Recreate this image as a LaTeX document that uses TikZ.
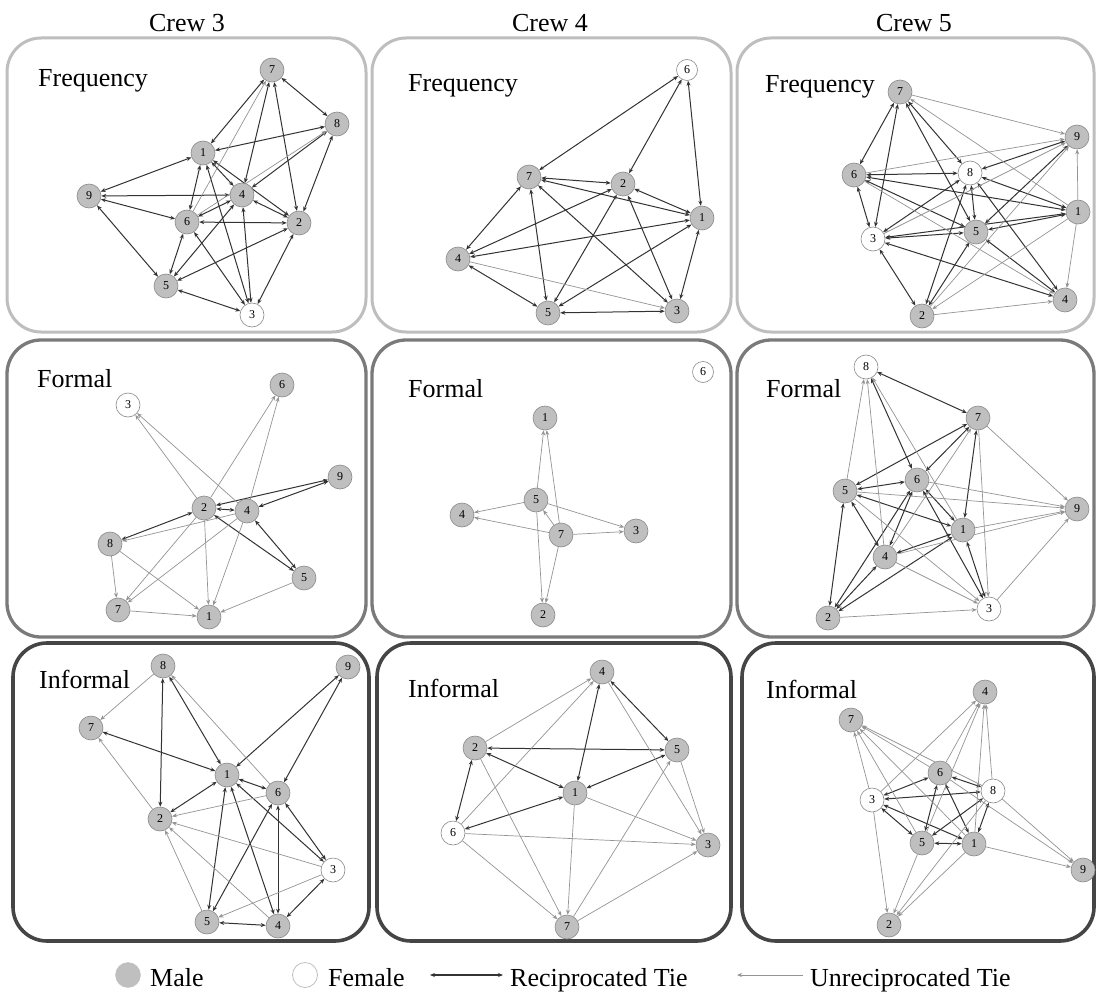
\documentclass[tikz,border=0pt]{standalone}
\usepackage{fontspec}
\setmainfont{Liberation Serif}
\usetikzlibrary{arrows.meta,backgrounds}
\definecolor{rowone}{HTML}{BEBEBE}
\definecolor{rowtwo}{HTML}{7A7A7A}
\definecolor{rowthree}{HTML}{454545}
\definecolor{malefill}{HTML}{BFBFBF}
\definecolor{nodeedge}{HTML}{8A8A8A}
\begin{document}
\begin{tikzpicture}[x=1pt,y=-1pt,
  male/.style={circle, draw=nodeedge, fill=malefill, line width=0.6pt, minimum size=24pt, inner sep=0pt, font=\fontsize{12}{12}\selectfont},
  female/.style={male, fill=white},
  rec/.style={draw=black!80, line width=1pt, {Stealth[length=5pt,width=4pt]}-{Stealth[length=5pt,width=4pt]}},
  uni/.style={draw=black!42, line width=0.7pt, -{Stealth[length=5pt,width=4pt]}},
  panelbox/.style={rounded corners=34pt, line width=3pt},
  biglabel/.style={anchor=base west, inner sep=0pt, font=\fontsize{26}{30}\selectfont},
  title/.style={anchor=base, inner sep=0pt, font=\fontsize{26}{30}\selectfont},
  legtext/.style={anchor=base west, inner sep=0pt, font=\fontsize{26}{30}\selectfont}]
\useasboundingbox (0,0) rectangle (1098,1006);

% titles
\node[title] (t3) at (187,32) {Crew 3};
\node[title] (t4) at (550,32) {Crew 4};
\node[title] (t5) at (914,32) {Crew 5};

% panel labels
\node[biglabel] (la) at (38,87) {Frequency};
\node[biglabel] (lb) at (408,92) {Frequency};
\node[biglabel] (lc) at (765,93) {Frequency};
\node[biglabel] (ld) at (37,387) {Formal};
\node[biglabel] (le) at (408,397) {Formal};
\node[biglabel] (lf) at (766,397) {Formal};
\node[biglabel] (lg) at (39,688) {Informal};
\node[biglabel] (lh) at (408,697) {Informal};
\node[biglabel] (li) at (766,698) {Informal};

% ---- Panel A: Crew 3 Frequency
\node[male] (A7) at (272,70) {7};
\node[male] (A8) at (337,124) {8};
\node[male] (A1) at (203,153) {1};
\node[male] (A9) at (89,196) {9};
\node[male] (A4) at (242,195) {4};
\node[male] (A6) at (187,222) {6};
\node[male] (A2) at (299,223) {2};
\node[male] (A5) at (166,286) {5};
\node[female] (A3) at (252,315) {3};

% ---- Panel B: Crew 4 Frequency
\node[female, minimum size=21pt] (B6) at (687,70) {6};
\node[male] (B7) at (529,177) {7};
\node[male] (B2) at (623,184) {2};
\node[male] (B1) at (702,218) {1};
\node[male] (B4) at (458,259) {4};
\node[male] (B5) at (548,313) {5};
\node[male] (B3) at (677,311) {3};

% ---- Panel C: Crew 5 Frequency
\node[male] (C7) at (900,92) {7};
\node[male] (C9) at (1077,137) {9};
\node[male] (C6) at (854,175) {6};
\node[female] (C8) at (970,173) {8};
\node[male] (C1) at (1078,212) {1};
\node[female] (C3) at (873,239) {3};
\node[male] (C5) at (976,232) {5};
\node[male] (C4) at (1065,300) {4};
\node[male] (C2) at (922,316) {2};

% ---- Panel D: Crew 3 Formal
\node[female] (D3) at (128,405) {3};
\node[male] (D6) at (282,385) {6};
\node[male] (D9) at (340,477) {9};
\node[male] (D2) at (204,508) {2};
\node[male] (D4) at (247,511) {4};
\node[male] (D8) at (110,544) {8};
\node[male] (D5) at (304,578) {5};
\node[male] (D7) at (118,610) {7};
\node[male] (D1) at (209,617) {1};

% ---- Panel E: Crew 4 Formal
\node[female, minimum size=21pt] (E6) at (703,372) {6};
\node[male] (E1) at (545,418) {1};
\node[male] (E5) at (536,500) {5};
\node[male] (E4) at (462,515) {4};
\node[male] (E7) at (561,535) {7};
\node[male] (E3) at (636,531) {3};
\node[male] (E2) at (543,615) {2};

% ---- Panel F: Crew 5 Formal
\node[female] (F8) at (866,367) {8};
\node[male] (F7) at (978,418) {7};
\node[male] (F6) at (917,480) {6};
\node[male] (F5) at (845,491) {5};
\node[male] (F9) at (1077,509) {9};
\node[male] (F1) at (963,530) {1};
\node[male] (F4) at (885,557) {4};
\node[male] (F2) at (828,618) {2};
\node[female] (F3) at (989,609) {3};

% ---- Panel G: Crew 3 Informal
\node[male] (G8) at (163,666) {8};
\node[male] (G9) at (348,667) {9};
\node[male] (G7) at (91,728) {7};
\node[male] (G1) at (227,775) {1};
\node[male] (G6) at (278,793) {6};
\node[male] (G2) at (160,819) {2};
\node[female] (G3) at (333,870) {3};
\node[male] (G5) at (207,922) {5};
\node[male] (G4) at (278,926) {4};

% ---- Panel H: Crew 4 Informal
\node[male] (H4) at (602,672) {4};
\node[male] (H2) at (475,748) {2};
\node[male] (H5) at (677,750) {5};
\node[male] (H1) at (575,793) {1};
\node[female] (H6) at (453,833) {6};
\node[male] (H3) at (708,845) {3};
\node[male] (H7) at (567,927) {7};

% ---- Panel I: Crew 5 Informal
\node[male] (I4) at (985,692) {4};
\node[male] (I7) at (851,720) {7};
\node[male] (I6) at (940,773) {6};
\node[female] (I8) at (993,791) {8};
\node[female] (I3) at (872,800) {3};
\node[male] (I5) at (922,843) {5};
\node[male] (I1) at (974,844) {1};
\node[male] (I9) at (1083,870) {9};
\node[male] (I2) at (889,925) {2};

% ---- legend
\node[circle, fill=malefill, draw=malefill, minimum size=25pt, inner sep=0pt] (lm) at (128,975) {};
\node[legtext] (lmt) at (150,986) {Male};
\node[circle, fill=white, draw=malefill, line width=0.8pt, minimum size=25pt, inner sep=0pt] (lf) at (305,975) {};
\node[legtext] (lft) at (328,986) {Female};
\coordinate (ra) at (430,975);
\coordinate (rb) at (503,975);
\node[legtext] (lrt) at (510,986) {Reciprocated Tie};
\coordinate (ua) at (803,975);
\coordinate (ub) at (737,975);
\node[legtext] (lut) at (810,986) {Unreciprocated Tie};
\draw[rec, line width=1.3pt] (ra) -- (rb);
\draw[uni] (ua) -- (ub);

\begin{pgfonlayer}{background}
\fill[white] (0,0) rectangle (1098,1006);
% panel frames
\draw[panelbox, rowone] (7,38) rectangle (366,332);
\draw[panelbox, rowone] (372,38) rectangle (731,332);
\draw[panelbox, rowone] (737,38) rectangle (1094,332);
\draw[panelbox, rowtwo, line width=3.3pt] (7,340) rectangle (366,637);
\draw[panelbox, rowtwo, line width=3.3pt] (372,340) rectangle (731,637);
\draw[panelbox, rowtwo, line width=3.3pt] (737,340) rectangle (1094,637);
\draw[panelbox, rowthree, line width=3.6pt] (13,643) rectangle (369,941);
\draw[panelbox, rowthree, line width=3.6pt] (377,643) rectangle (731,941);
\draw[panelbox, rowthree, line width=3.6pt] (742,643) rectangle (1094,941);

% Panel A edges
\foreach \a/\b in {A7/A1,A7/A8,A7/A4,A7/A2,A8/A1,A8/A4,A8/A2,A1/A9,A1/A4,A1/A2,A1/A6,A1/A3,A9/A4,A9/A6,A9/A5,A4/A6,A4/A2,A4/A5,A4/A3,A6/A2,A6/A5,A6/A3,A2/A5,A2/A3,A5/A3}
  \draw[rec] (\a) -- (\b);
\foreach \a/\b in {A6/A7,A6/A8}
  \draw[uni] (\a) -- (\b);

% Panel B edges
\foreach \a/\b in {B6/B7,B6/B2,B6/B1,B7/B2,B7/B1,B7/B4,B7/B5,B7/B3,B2/B1,B2/B4,B2/B5,B2/B3,B1/B4,B1/B5,B1/B3,B4/B5,B5/B3}
  \draw[rec] (\a) -- (\b);
\foreach \a/\b in {B4/B3}
  \draw[uni] (\a) -- (\b);

% Panel C edges
\foreach \a/\b in {C7/C6,C7/C3,C7/C8,C7/C5,C6/C8,C6/C1,C6/C5,C6/C3,C8/C9,C8/C1,C8/C5,C8/C3,C8/C2,C8/C4,C9/C5,C1/C5,C1/C3,C3/C5,C3/C4,C3/C2,C5/C4,C5/C2}
  \draw[rec] (\a) -- (\b);
\foreach \a/\b in {C7/C9,C1/C7,C6/C9,C6/C4,C3/C9,C2/C9,C1/C9,C1/C4,C1/C2,C2/C4}
  \draw[uni] (\a) -- (\b);

% Panel D edges
\foreach \a/\b in {D2/D9,D4/D9,D2/D4,D2/D8,D2/D5,D4/D5}
  \draw[rec] (\a) -- (\b);
\foreach \a/\b in {D2/D3,D4/D3,D2/D6,D4/D6,D4/D8,D2/D7,D4/D7,D2/D1,D4/D1,D8/D7,D8/D1,D7/D1,D5/D1}
  \draw[uni] (\a) -- (\b);

% Panel E edges
\foreach \a/\b in {E5/E1,E7/E1,E5/E4,E7/E4,E5/E3,E7/E3,E5/E2,E7/E2,E7/E5}
  \draw[uni] (\a) -- (\b);

% Panel F edges
\foreach \a/\b in {F8/F7,F8/F6,F7/F5,F7/F6,F7/F1,F5/F6,F5/F1,F5/F4,F5/F2,F6/F1,F6/F4,F6/F2,F6/F3,F1/F4,F1/F2,F1/F3,F4/F2}
  \draw[rec] (\a) -- (\b);
\foreach \a/\b in {F5/F8,F4/F8,F1/F8,F7/F9,F7/F3,F4/F7,F5/F9,F5/F3,F6/F9,F1/F9,F4/F3,F2/F3,F3/F9,F4/F9}
  \draw[uni] (\a) -- (\b);

% Panel G edges
\foreach \a/\b in {G8/G2,G8/G1,G9/G1,G9/G6,G7/G1,G1/G2,G1/G6,G1/G5,G1/G4,G1/G3,G6/G3,G6/G4,G6/G5,G3/G4,G5/G4}
  \draw[rec] (\a) -- (\b);
\foreach \a/\b in {G8/G7,G6/G8,G2/G7,G6/G2,G3/G2,G3/G5,G5/G2,G4/G2}
  \draw[uni] (\a) -- (\b);

% Panel H edges
\foreach \a/\b in {H4/H1,H4/H5,H2/H5,H2/H1,H2/H6,H5/H1,H1/H6}
  \draw[rec] (\a) -- (\b);
\foreach \a/\b in {H2/H4,H6/H4,H4/H3,H2/H7,H5/H3,H1/H3,H1/H7,H6/H3,H6/H7,H7/H5,H7/H3}
  \draw[uni] (\a) -- (\b);

% Panel I edges
\foreach \a/\b in {I6/I8,I6/I3,I6/I5,I6/I1,I3/I8,I3/I5,I3/I1,I8/I5,I8/I1,I5/I1}
  \draw[rec] (\a) -- (\b);
\foreach \a/\b in {I3/I4,I6/I4,I5/I4,I1/I4,I8/I4,I3/I7,I5/I7,I6/I7,I8/I7,I1/I7,I8/I9,I6/I9,I1/I9,I3/I2,I5/I2,I1/I2,I8/I2}
  \draw[uni] (\a) -- (\b);
\end{pgfonlayer}
\end{tikzpicture}
\end{document}
